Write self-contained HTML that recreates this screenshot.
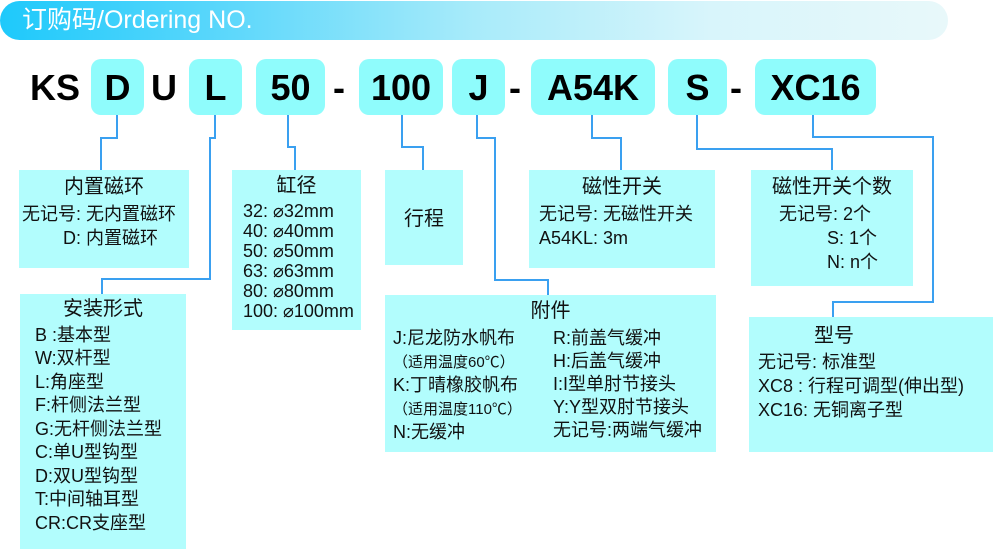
<!DOCTYPE html>
<html><head><meta charset="utf-8"><style>
body{margin:0;width:993px;height:549px;background:#fff;position:relative;overflow:hidden;font-family:"Liberation Sans","Noto Sans CJK SC",sans-serif;}
.a{position:absolute}
.hdr{left:0;top:1px;width:948px;height:39px;border-radius:20px;background:linear-gradient(90deg,#1ec9fb 0%,#5fd8fb 25%,#a8ebfa 50%,#d8f5fb 75%,#e8f8fa 100%);color:#fff;font-size:25px;line-height:39px;padding-left:22px;box-sizing:border-box;}
.cb{position:absolute;top:59px;height:56px;background:#8ffcfc;border-radius:10px;}
.ct{position:absolute;top:59px;height:56px;line-height:58px;font-size:36px;font-weight:bold;color:#000;text-align:center;}
.bx{position:absolute;background:#b2fdfd;font-size:18px;color:#111;line-height:24px;box-sizing:border-box;white-space:nowrap;}
.t{text-align:center;font-size:20px;}
svg{position:absolute;left:0;top:0}
</style></head><body>
<div class="a hdr">订购码/Ordering NO.</div>

<div class="ct" style="left:25px;width:60px">KS</div>
<div class="cb" style="left:91px;width:53px"></div><div class="ct" style="left:91px;width:53px">D</div>
<div class="ct" style="left:150px;width:28px">U</div>
<div class="cb" style="left:189px;width:53px"></div><div class="ct" style="left:189px;width:53px">L</div>
<div class="cb" style="left:256px;width:69px"></div><div class="ct" style="left:256px;width:69px">50</div>
<div class="ct" style="left:328px;width:22px">-</div>
<div class="cb" style="left:359px;width:84px"></div><div class="ct" style="left:359px;width:84px">100</div>
<div class="cb" style="left:452px;width:53px"></div><div class="ct" style="left:452px;width:53px">J</div>
<div class="ct" style="left:504px;width:22px">-</div>
<div class="cb" style="left:531px;width:124px"></div><div class="ct" style="left:531px;width:124px">A54K</div>
<div class="cb" style="left:668px;width:59px"></div><div class="ct" style="left:668px;width:59px">S</div>
<div class="ct" style="left:725px;width:22px">-</div>
<div class="cb" style="left:755px;width:121px"></div><div class="ct" style="left:755px;width:121px">XC16</div>

<svg width="993" height="549"><g fill="none" stroke="#3aa0f0" stroke-width="2">
<polyline points="117,115 117,138 101,138 101,170"/>
<polyline points="215,115 215,138 210,138 210,279 102,279 102,294"/>
<polyline points="288,115 288,147 295,147 295,170"/>
<polyline points="402,115 402,147 423,147 423,170"/>
<polyline points="477,115 477,138 495,138 495,280 548,280 548,295"/>
<polyline points="592,115 592,138 621,138 621,170"/>
<polyline points="697,115 697,149 832,149 832,170"/>
<polyline points="813,115 813,137 933,137 933,302 833,302 833,317"/>
</g></svg>

<div class="bx" style="left:19px;top:170px;width:170px;height:98px;padding-top:5px">
<div class="t">内置磁环</div>
<div style="padding-left:3px;margin-top:3px">无记号: 无内置磁环</div>
<div style="padding-left:44px">D: 内置磁环</div></div>

<div class="bx" style="left:20px;top:294px;width:166px;height:255px;padding-top:4px;line-height:23.5px">
<div class="t">安装形式</div>
<div style="padding-left:15px;margin-top:2px">B :基本型<br>W:双杆型<br>L:角座型<br>F:杆侧法兰型<br>G:无杆侧法兰型<br>C:单U型钩型<br>D:双U型钩型<br>T:中间轴耳型<br>CR:CR支座型</div></div>

<div class="bx" style="left:232px;top:170px;width:129px;height:160px;padding-top:4px;line-height:20px">
<div class="t" style="line-height:24px">缸径</div>
<div style="padding-left:11px;margin-top:3px">32: ⌀32mm<br>40: ⌀40mm<br>50: ⌀50mm<br>63: ⌀63mm<br>80: ⌀80mm<br>100: ⌀100mm</div></div>

<div class="bx" style="left:385px;top:170px;width:78px;height:95px;padding-top:37px"><div class="t">行程</div></div>

<div class="bx" style="left:385px;top:295px;width:331px;height:157px;padding-top:5px;line-height:23px">
<div class="t">附件</div>
<div style="position:absolute;left:8px;top:32px">J:尼龙防水帆布<br><span style="font-size:15px">（适用温度60℃）</span><br>K:丁晴橡胶帆布<br><span style="font-size:15px">（适用温度110℃）</span><br>N:无缓冲</div>
<div style="position:absolute;left:168px;top:32px">R:前盖气缓冲<br>H:后盖气缓冲<br>I:I型单肘节接头<br>Y:Y型双肘节接头<br>无记号:两端气缓冲</div></div>

<div class="bx" style="left:529px;top:170px;width:186px;height:98px;padding-top:5px">
<div class="t">磁性开关</div>
<div style="padding-left:10px;margin-top:3px">无记号: 无磁性开关<br>A54KL: 3m</div></div>

<div class="bx" style="left:751px;top:170px;width:162px;height:116px;padding-top:5px">
<div class="t">磁性开关个数</div>
<div style="padding-left:28px;margin-top:3px">无记号: 2个</div>
<div style="padding-left:76px">S: 1个<br>N: n个</div></div>

<div class="bx" style="left:749px;top:317px;width:244px;height:135px;padding-top:7px">
<div style="padding-left:65px;font-size:20px">型号</div>
<div style="padding-left:9px;margin-top:2px">无记号: 标准型<br>XC8 : 行程可调型(伸出型)<br>XC16: 无铜离子型</div></div>
</body></html>
